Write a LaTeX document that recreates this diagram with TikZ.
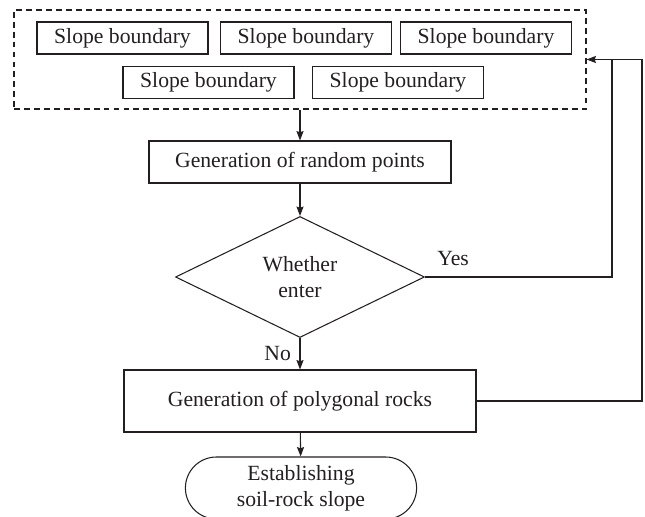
\documentclass[tikz,border=0pt]{standalone}
\usepackage{fontspec}
\setmainfont{Liberation Serif}
\usetikzlibrary{arrows.meta,shapes.geometric,shapes.misc}
\definecolor{ink}{HTML}{231F20}
\begin{document}
\begin{tikzpicture}[
    x=0.03cm, y=-0.03cm,
    every node/.style={text=ink, font=\fontsize{18.5}{22}\selectfont},
    box/.style={rectangle, draw=ink, line width=0.9pt, align=center, inner sep=0pt},
    bound/.style={box, minimum width=5.13cm, minimum height=0.96cm},
    region/.style={rectangle, draw=ink, line width=0.9pt, dash pattern=on 5pt off 3.5pt, minimum width=17.16cm, minimum height=2.97cm},
    process/.style={box, minimum height=1.26cm},
    decision/.style={diamond, draw=ink, line width=0.9pt, align=center, inner sep=0pt, minimum width=7.47cm, minimum height=3.63cm},
    terminal/.style={rounded rectangle, draw=ink, line width=0.9pt, align=center, minimum width=7.17cm, minimum height=1.86cm},
    arrow/.style={-{Stealth[length=8pt,width=6pt,inset=1pt]}, line width=0.9pt, draw=ink},
    line/.style={line width=0.9pt, draw=ink}
]
    \useasboundingbox (0,0) rectangle (645,517);

    % Slope boundaries
    \node[region] (boundary) at (300,59.5) {};
    \node[bound] (sb1) at (122.5,38) {Slope boundary};
    \node[bound] (sb2) at (306,38) {Slope boundary};
    \node[bound] (sb3) at (486,38) {Slope boundary};
    \node[bound] (sb4) at (208.5,82.5) {Slope boundary};
    \node[bound] (sb5) at (398,82.5) {Slope boundary};

    % Main flow
    \node[process, minimum width=9.06cm] (points) at (300,162) {Generation of random points};
    \node[decision] (enter) at (300,277) {Whether\\enter};
    \node[process, minimum width=10.56cm, minimum height=1.86cm] (rocks) at (300,401) {Generation of polygonal rocks};
    \node[terminal] (slope) at (301,488) {Establishing\\soil-rock slope};

    \draw[arrow] (boundary) -- (points);
    \draw[arrow] (points) -- (enter);
    \draw[arrow] (enter) -- node[left=4pt] {No} (rocks);
    \draw[arrow] (rocks) -- (slope);

    % Feedback loops
    \coordinate (loopA) at (612,0);
    \coordinate (loopB) at (642,0);
    \draw[arrow] (enter.east) -- node[pos=0.15, above=6pt] {Yes} (enter.east -| loopA) |- (boundary.east);
    \draw[line] (rocks.east) -- (rocks.east -| loopB) |- (loopA |- boundary.east);
\end{tikzpicture}
\end{document}
